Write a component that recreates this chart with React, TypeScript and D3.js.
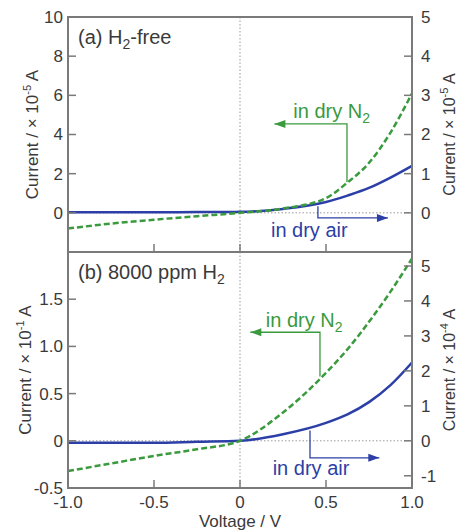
import React from 'react';
import * as d3 from 'd3';

// voltage sweep (V)
const voltage = [-1, -0.75, -0.5, -0.25, 0, 0.25, 0.5, 0.625, 0.75, 0.875, 1];

// (a) H2-free, x10^-5 A
const freeN2 = [-0.8, -0.55, -0.35, -0.17, 0, 0.22, 0.75, 1.55, 2.55, 4.1, 6.1];
const freeAir = [0.03, 0.03, 0.03, 0.04, 0.05, 0.2, 0.55, 0.88, 1.27, 1.8, 2.4];

// (b) 8000 ppm H2, x10^-1 A
const h2N2 = [-0.32, -0.24, -0.16, -0.09, 0, 0.3, 0.72, 0.97, 1.26, 1.58, 1.93];
const h2Air = [-0.02, -0.02, -0.02, -0.01, 0, 0.07, 0.19, 0.28, 0.41, 0.59, 0.83];

const xTicks = [-1, -0.5, 0, 0.5, 1];
const xTickLabels = ['-1.0', '-0.5', '0', '0.5', '1.0'];

const settings = {
  width: 460,
  height: 530,
  left: 68,
  right: 412,
  font: '"Liberation Sans", Arial, sans-serif'
};

const GREEN = '#3a9a3e';
const BLUE = '#2c3fa6';
const FRAME = '#7a7a7a';
const TEXT = '#3a3a3a';

const xScale = d3.scaleLinear().domain([-1, 1]).range([settings.left, settings.right]);

type Ann = { vx: number; y0: number; y1: number; tip: number; tx: number; ty: number };

type PanelProps = {
  id: string;
  top: number;
  bottom: number;
  yDomain: [number, number];
  rDomain: [number, number];
  yTicks: number[];
  yLabels: string[];
  rTicks: number[];
  exp: string;
  rExp: string;
  n2: number[];
  air: number[];
  title: React.ReactNode;
  annN2: Ann;
  annAir: Ann;
};

function Arrow({ x, y, dir, color }: { x: number; y: number; dir: number; color: string }) {
  const p = `${x},${y} ${x - dir * 11},${y - 4} ${x - dir * 11},${y + 4}`;
  return <polygon points={p} fill={color} />;
}

function Panel(p: PanelProps) {
  const y = d3.scaleLinear().domain(p.yDomain).range([p.bottom, p.top]);
  const yr = d3.scaleLinear().domain(p.rDomain).range([p.bottom, p.top]);
  const line = d3.line<number>()
    .x((d, i) => xScale(voltage[i]))
    .y(d => y(d))
    .curve(d3.curveMonotoneX);
  const midY = (p.top + p.bottom) / 2;

  const ann = (a: Ann, color: string, label: React.ReactNode) => {
    const x = xScale(a.vx);
    const dir = a.tip > a.vx ? 1 : -1;
    return (
      <g>
        <path d={`M${x},${y(a.y0)}V${y(a.y1)}H${xScale(a.tip)}`} fill="none" stroke={color} strokeWidth={1.3} />
        <Arrow x={xScale(a.tip)} y={y(a.y1)} dir={dir} color={color} />
        <text x={xScale(a.tx)} y={y(a.ty)} fill={color} fontSize={20}>{label}</text>
      </g>
    );
  };

  return (
    <g>
      <line x1={xScale(0)} x2={xScale(0)} y1={p.top} y2={p.bottom} stroke="#999" strokeDasharray="1.5,2" />
      <line x1={settings.left} x2={settings.right} y1={y(0)} y2={y(0)} stroke="#999" strokeDasharray="1.5,2" />

      <path d={line(p.air) || ''} fill="none" stroke={BLUE} strokeWidth={2.5} />
      <path d={line(p.n2) || ''} fill="none" stroke={GREEN} strokeWidth={2.5} strokeDasharray="6,3" />

      {ann(p.annN2, GREEN, <>in dry N<tspan dy={5} fontSize={14}>2</tspan></>)}
      {ann(p.annAir, BLUE, 'in dry air')}

      <rect x={settings.left} y={p.top} width={settings.right - settings.left} height={p.bottom - p.top}
        fill="none" stroke={FRAME} strokeWidth={2} />

      {xTicks.slice(1, -1).map(t => (
        <line key={t} x1={xScale(t)} x2={xScale(t)} y1={p.bottom} y2={p.bottom - 8} stroke={FRAME} strokeWidth={1.5} />
      ))}
      {p.yTicks.map((t, i) => (
        <g key={t}>
          <line x1={settings.left} x2={settings.left + 8} y1={y(t)} y2={y(t)} stroke={FRAME} strokeWidth={1.5} />
          <text x={settings.left - 5} y={y(t)} dy="0.35em" textAnchor="end" fontSize={17} fill={TEXT}>{p.yLabels[i]}</text>
        </g>
      ))}
      {p.rTicks.map(t => (
        <g key={t}>
          <line x1={settings.right} x2={settings.right - 8} y1={yr(t)} y2={yr(t)} stroke={FRAME} strokeWidth={1.5} />
          <text x={settings.right + 9} y={yr(t)} dy="0.35em" fontSize={17} fill={TEXT}>{t}</text>
        </g>
      ))}

      <text x={settings.left + 10} y={p.top + 27} fontSize={20} fill={TEXT}>{p.title}</text>

      <text transform={`translate(${p.id === 'a' ? 38 : 31},${midY}) rotate(-90)`} textAnchor="middle" fontSize={17} fill={TEXT}>
        Current / × 10<tspan dy={-7} fontSize={11}>{p.exp}</tspan><tspan dy={7}> A</tspan>
      </text>
      <text transform={`translate(455,${midY}) rotate(-90)`} textAnchor="middle" fontSize={16} fill={TEXT}>
        Current / × 10<tspan dy={-7} fontSize={11}>{p.rExp}</tspan><tspan dy={7}> A</tspan>
      </text>
    </g>
  );
}

export default function App() {
  return (
    <svg width={settings.width} height={settings.height} fontFamily={settings.font}
      style={{ position: 'absolute', left: 0, top: 0, background: '#fff' }}>
      <Panel id="a" top={17} bottom={252} yDomain={[-2, 10]} rDomain={[-1, 5]}
        yTicks={[0, 2, 4, 6, 8, 10]} yLabels={['0', '2', '4', '6', '8', '10']}
        rTicks={[0, 1, 2, 3, 4, 5]} exp="-5" rExp="-5"
        n2={freeN2} air={freeAir}
        title={<>(a) H<tspan dy={5} fontSize={14}>2</tspan><tspan dy={-5}>-free</tspan></>}
        annN2={{ vx: 0.622, y0: 1.58, y1: 4.54, tip: 0.2, tx: 0.31, ty: 4.85 }}
        annAir={{ vx: 0.453, y0: 0.33, y1: -0.26, tip: 0.86, tx: 0.18, ty: -1.22 }} />
      <Panel id="b" top={252} bottom={488} yDomain={[-0.5, 2]} rDomain={[-1.35, 5.4]}
        yTicks={[-0.5, 0, 0.5, 1, 1.5]} yLabels={['-0.5', '0', '0.5', '1.0', '1.5']}
        rTicks={[-1, 0, 1, 2, 3, 4, 5]} exp="-1" rExp="-4"
        n2={h2N2} air={h2Air}
        title={<>(b) 8000 ppm H<tspan dy={5} fontSize={14}>2</tspan></>}
        annN2={{ vx: 0.465, y0: 0.68, y1: 1.15, tip: 0.06, tx: 0.15, ty: 1.21 }}
        annAir={{ vx: 0.407, y0: 0.11, y1: -0.18, tip: 0.81, tx: 0.19, ty: -0.36 }} />
      {xTicks.map((t, i) => (
        <text key={t} x={xScale(t)} y={508} textAnchor="middle" fontSize={17} fill={TEXT}>{xTickLabels[i]}</text>
      ))}
      <text x={xScale(0)} y={527} textAnchor="middle" fontSize={17} fill={TEXT}>Voltage / V</text>
    </svg>
  );
}
